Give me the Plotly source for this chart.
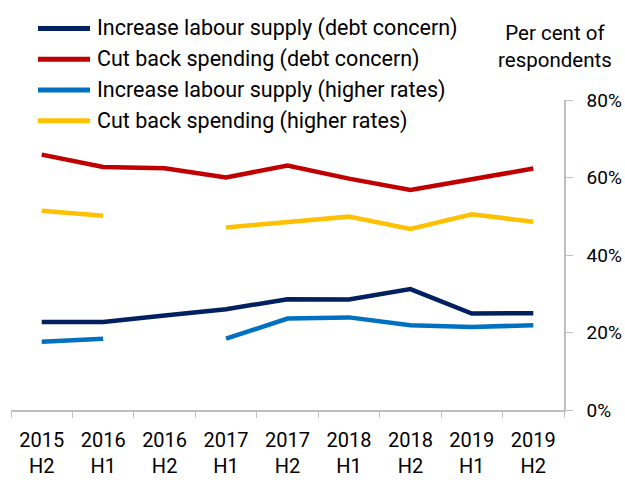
import plotly.graph_objects as go

categories = ["2015<br>H2", "2016<br>H1", "2016<br>H2", "2017<br>H1", "2017<br>H2",
              "2018<br>H1", "2018<br>H2", "2019<br>H1", "2019<br>H2"]

labour_debt = [22.7, 22.7, 24.4, 26.0, 28.6, 28.5, 31.2, 24.9, 25.0]
spending_debt = [65.9, 62.7, 62.4, 60.0, 63.1, 59.7, 56.8, 59.6, 62.3]
labour_rates = [17.6, 18.4, None, 18.4, 23.6, 23.9, 21.9, 21.4, 21.9]
spending_rates = [51.4, 50.1, None, 47.1, 48.5, 49.9, 46.7, 50.5, 48.6]

series = [
    ("Increase labour supply (debt concern)", labour_debt, "#002060"),
    ("Cut back spending (debt concern)", spending_debt, "#C00000"),
    ("Increase labour supply (higher rates)", labour_rates, "#0070C0"),
    ("Cut back spending (higher rates)", spending_rates, "#FFC000"),
]

FONT = "Roboto, Liberation Sans, sans-serif"
W, H = 625, 480
ML, MR, MT, MB = 11, 61, 100, 70
PW, PH = W - ML - MR, H - MT - MB


def px_x(x):
    return (x - ML) / PW


def px_y(y):
    return (H - MB - y) / PH


fig = go.Figure()
for name, vals, col in series:
    fig.add_trace(go.Scatter(x=categories, y=vals, name=name, mode="lines",
                             line=dict(color=col, width=4.5), connectgaps=False,
                             showlegend=False))

shapes = []
annotations = []
row_y = [28.5, 59.3, 90.0, 120.7]
for (name, vals, col), yy in zip(series, row_y):
    shapes.append(dict(type="line", xref="paper", yref="paper",
                       x0=px_x(38), x1=px_x(90), y0=px_y(yy), y1=px_y(yy),
                       line=dict(color=col, width=5)))
    annotations.append(dict(text=name, xref="paper", yref="paper",
                            x=px_x(95), y=px_y(yy), xanchor="left", yanchor="middle",
                            showarrow=False, font=dict(size=21.5)))

annotations.append(dict(text="Per cent of<br>respondents", xref="paper", yref="paper",
                        x=px_x(555), y=px_y(46), xanchor="center", yanchor="middle",
                        showarrow=False, font=dict(size=20.5)))

fig.update_layout(
    width=W, height=H,
    margin=dict(l=ML, r=MR, t=MT, b=MB),
    paper_bgcolor="white", plot_bgcolor="white",
    font=dict(family=FONT, size=20, color="#000000"),
    showlegend=False,
    xaxis=dict(type="category", range=[-0.5, 8.5], tickson="boundaries",
               showline=True, linecolor="#BFBFBF", linewidth=1.5,
               ticks="outside", ticklen=6, tickcolor="#BFBFBF",
               ticklabelstandoff=11, automargin=False,
               showgrid=False, tickfont=dict(size=20), zeroline=False),
    yaxis=dict(side="right", range=[0, 80], dtick=20, ticksuffix="%",
               showline=True, linecolor="#BFBFBF", linewidth=1.5,
               ticks="outside", ticklen=7, tickcolor="#BFBFBF",
               ticklabelstandoff=10, automargin=False,
               showgrid=False, zeroline=False, tickfont=dict(size=19)),
    shapes=shapes,
    annotations=annotations,
)

fig.write_html("out.html")
